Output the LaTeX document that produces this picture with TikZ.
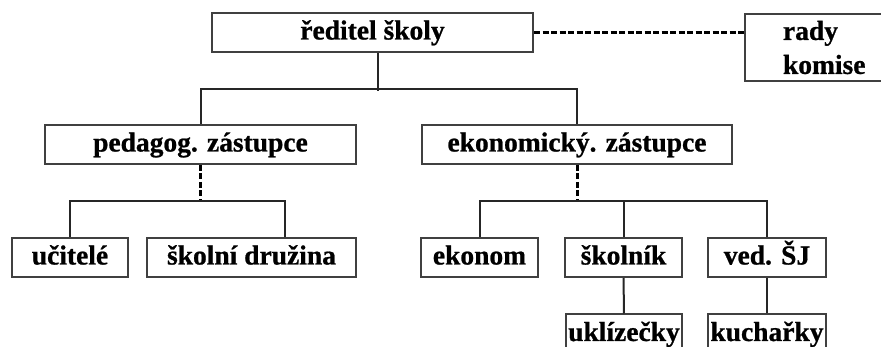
\documentclass[tikz,border=0pt]{standalone}
\usepackage{fontspec}
\setmainfont[BoldFeatures={FakeBold=0.8}]{Liberation Serif}
\usepackage{tikz}
\usetikzlibrary{calc}

\begin{document}
\begin{tikzpicture}[x=1pt, y=-1pt,
        box/.style={draw=black!75, line width=2pt, fill=white, inner sep=0pt,
            minimum height=39pt, text height=20pt, text depth=6pt,
            font=\fontsize{27.5}{34}\selectfont\bfseries},
        link/.style={draw=black!85, line width=2pt},
        dashlink/.style={draw=black, line width=3pt, dash pattern=on 6pt off 2.5pt}]
            \useasboundingbox (0,0) rectangle (881,347);
            \pgfmathsetmacro{\rowa}{144.5}
            \pgfmathsetmacro{\rowb}{257.5}
            \pgfmathsetmacro{\rowc}{334}
            \node[box, minimum width=321pt] (red) at (372.5,32.5) {ředitel školy};
            \node[box, anchor=north west, minimum height=67pt, text height=, text depth=, inner xsep=38pt, inner ysep=0pt, text width=110pt, align=left] (rady) at (744,13) {rady\\komise};
            \node[box, minimum width=311pt] (ped) at (200.5,\rowa) {pedagog. zástupce};
            \node[box, minimum width=310pt] (eko) at (577,\rowa) {ekonomický. zástupce};
            \foreach \name/\x/\w/\txt in {uci/70/116/učitelé, dru/251.5/209/školní družina, ekn/479.5/117/ekonom, skl/623.5/117/školník, ved/767/118/ved. ŠJ} {
                \node[box, minimum width=\w pt] (\name) at (\x,\rowb) {\txt};
            }
            \node[box, minimum width=116pt] (ukl) at (624,\rowc) {uklízečky};
            \node[box, minimum width=118pt] (kuc) at (767,\rowc) {kuchařky};

            \draw[dashlink] (red.east) -- (red.east -| rady.west);
            \draw[link] ([xshift=5pt]red.south) -- ++(0,38.5);
            \draw[link] (ped.north) -- ++(0,-35) -| (eko.north);

            \draw[dashlink] (ped.south) -- ++(0,36) coordinate (pbus);
            \draw[link] (uci.north) |- (pbus) -| ([xshift=33.5pt]dru.north);
            \draw[dashlink] (eko.south) -- ++(0,36) coordinate (ebus);
            \draw[link] (ekn.north) |- (ebus) -| (ved.north);
            \draw[link] (skl.north) -- (skl.north |- ebus);
            \draw[link] (skl) -- (ukl);
            \draw[link] (ved) -- (kuc);
        \end{tikzpicture}
\end{document}
